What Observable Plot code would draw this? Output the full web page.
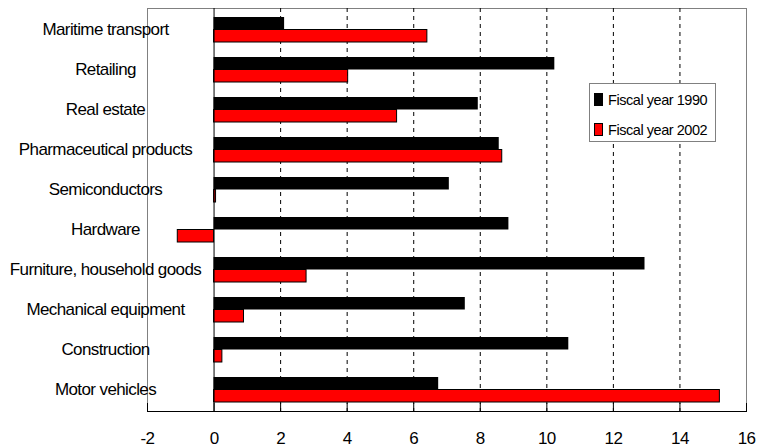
<!DOCTYPE html>
<html>
<head>
<meta charset="utf-8">
<script src="https://cdn.jsdelivr.net/npm/d3@7"></script>
<script src="https://cdn.jsdelivr.net/npm/@observablehq/plot@0.6"></script>
<style>
  body { margin: 0; background: #fff; }
  #chart { position: relative; width: 758px; height: 448px; overflow: hidden; }
  #chart svg text { letter-spacing: -0.6px; }
  .legend { position: absolute; left: 589px; top: 83px; width: 127px; height: 59px;
            border: 1px solid #808080; box-sizing: border-box; background: #fff;
            font-family: "Liberation Sans", Arial, sans-serif;
            font-size: 14.5px; letter-spacing: -0.45px; color: #000; }
  .item { position: absolute; left: 4px; height: 16px; line-height: 16px; white-space: nowrap; }
  .key { display: inline-block; width: 7px; height: 11px; border: 1px solid #000; vertical-align: -1px; margin-right: 5px; }
</style>
</head>
<body>
<div id="chart"></div>
<script>
const categories = [
  "Maritime transport",
  "Retailing",
  "Real estate",
  "Pharmaceutical products",
  "Semiconductors",
  "Hardware",
  "Furniture, household goods",
  "Mechanical equipment",
  "Construction",
  "Motor vehicles"
];
const fy1990 = [2.12, 10.24, 7.94, 8.57, 7.07, 8.86, 12.95, 7.55, 10.66, 6.75];
const fy2002 = [6.41, 4.03, 5.50, 8.66, 0.06, -1.09, 2.78, 0.90, 0.25, 15.20];
const seriesNames = ["Fiscal year 1990", "Fiscal year 2002"];
const seriesColors = ["#000000", "#ff0000"];
const xTicks = [-2, 0, 2, 4, 6, 8, 10, 12, 14, 16];
const gridTicks = [2, 4, 6, 8, 10, 12, 14];

const rows = categories.map((c, i) => ({category: c, v1990: fy1990[i], v2002: fy2002[i]}));
const font = '"Liberation Sans", Arial, sans-serif';

const chart = Plot.plot({
  width: 758,
  height: 448,
  marginTop: 8,
  marginBottom: 37,
  marginLeft: 147,
  marginRight: 12,
  style: {fontFamily: font, fontSize: "17px", color: "#000", background: "#fff"},
  x: {domain: [-2, 16], label: null},
  y: {domain: categories, paddingInner: 0.38, paddingOuter: 0.19, label: null},
  marks: [
    Plot.frame({stroke: "#808080"}),
    Plot.ruleX(gridTicks, {stroke: "#000", strokeDasharray: "4,4", strokeWidth: 1}),
    Plot.barX(rows, {x: "v1990", y: "category", fill: seriesColors[0], insetBottom: 12.5}),
    Plot.barX(rows, {x: "v2002", y: "category", fill: seriesColors[1], stroke: "#000", strokeWidth: 1, insetTop: 12.5}),
    Plot.ruleX([0], {stroke: "#000", strokeWidth: 1}),
    Plot.frame({anchor: "bottom", stroke: "#000"}),
    Plot.tickX(xTicks, {x: d => d, insetTop: 395, stroke: "#000"}),
    Plot.axisX({ticks: xTicks, tickSize: 0, tickPadding: 20, tickFormat: d => String(d), label: null}),
    Plot.axisY({tickSize: 0, tickPadding: 42, textAnchor: "middle", label: null})
  ]
});

const container = document.getElementById("chart");
container.appendChild(chart);

const legend = document.createElement("div");
legend.className = "legend";
seriesNames.forEach((name, i) => {
  const item = document.createElement("div");
  item.className = "item";
  item.style.top = (i === 0 ? 8 : 38) + "px";
  const key = document.createElement("span");
  key.className = "key";
  key.style.background = seriesColors[i];
  item.appendChild(key);
  item.appendChild(document.createTextNode(name));
  legend.appendChild(item);
});
container.appendChild(legend);
</script>
</body>
</html>
